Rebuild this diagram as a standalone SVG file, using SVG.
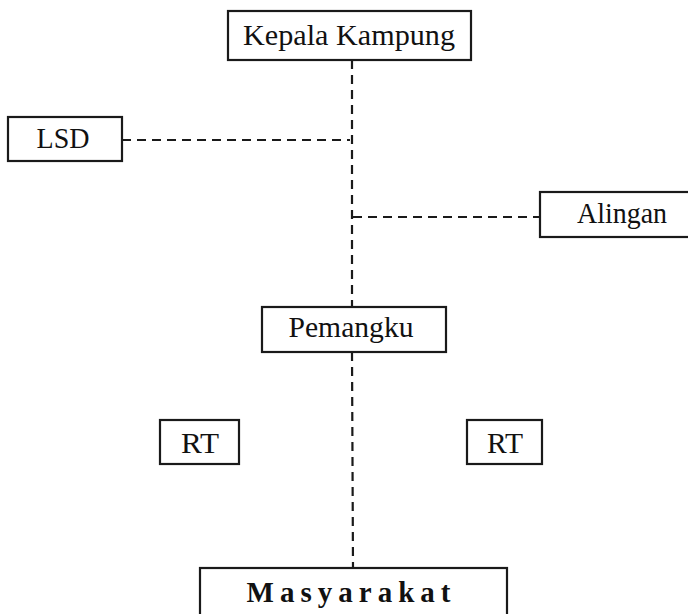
<svg xmlns="http://www.w3.org/2000/svg" width="688" height="614" viewBox="0 0 688 614">
<style>
.box{fill:#fff;stroke:#1a1a1a;stroke-width:2.2}
.t{font-family:"Liberation Serif","Times New Roman",serif;font-size:29px;fill:#111;text-anchor:middle}
.c{fill:none;stroke:#1a1a1a;stroke-width:2.2;stroke-dasharray:9 6}
</style>
<rect width="688" height="614" fill="#fff"/>
<g id="connectors">
<line class="c" x1="352" y1="60" x2="352" y2="307"/>
<line class="c" x1="352" y1="352" x2="353" y2="568"/>
<line class="c" x1="122" y1="140" x2="350" y2="140"/>
<line class="c" x1="353" y1="217" x2="540" y2="217"/>
</g>
<g id="kepala">
<rect class="box" x="228" y="11" width="243" height="49"/>
<text class="t" x="349" y="45" textLength="212" lengthAdjust="spacingAndGlyphs">Kepala Kampung</text>
</g>
<g id="lsd">
<rect class="box" x="8" y="117" width="114" height="44"/>
<text class="t" x="63" y="148" textLength="53" lengthAdjust="spacingAndGlyphs">LSD</text>
</g>
<g id="alingan">
<rect class="box" x="540" y="192" width="152" height="45"/>
<text class="t" x="622" y="223" textLength="90" lengthAdjust="spacingAndGlyphs">Alingan</text>
</g>
<g id="pemangku">
<rect class="box" x="262" y="307" width="184" height="45"/>
<text class="t" x="351" y="337" textLength="125" lengthAdjust="spacingAndGlyphs">Pemangku</text>
</g>
<g id="rt-left">
<rect class="box" x="160" y="420" width="79" height="44"/>
<text class="t" x="200" y="453" textLength="38" lengthAdjust="spacingAndGlyphs">RT</text>
</g>
<g id="rt-right">
<rect class="box" x="467" y="420" width="75" height="44"/>
<text class="t" x="505" y="453" textLength="36" lengthAdjust="spacingAndGlyphs">RT</text>
</g>
<g id="masyarakat">
<rect class="box" x="200" y="568" width="307" height="60"/>
<text class="t" x="352" y="602" font-weight="bold" letter-spacing="7" textLength="211" lengthAdjust="spacing">Masyarakat</text>
</g>
</svg>
